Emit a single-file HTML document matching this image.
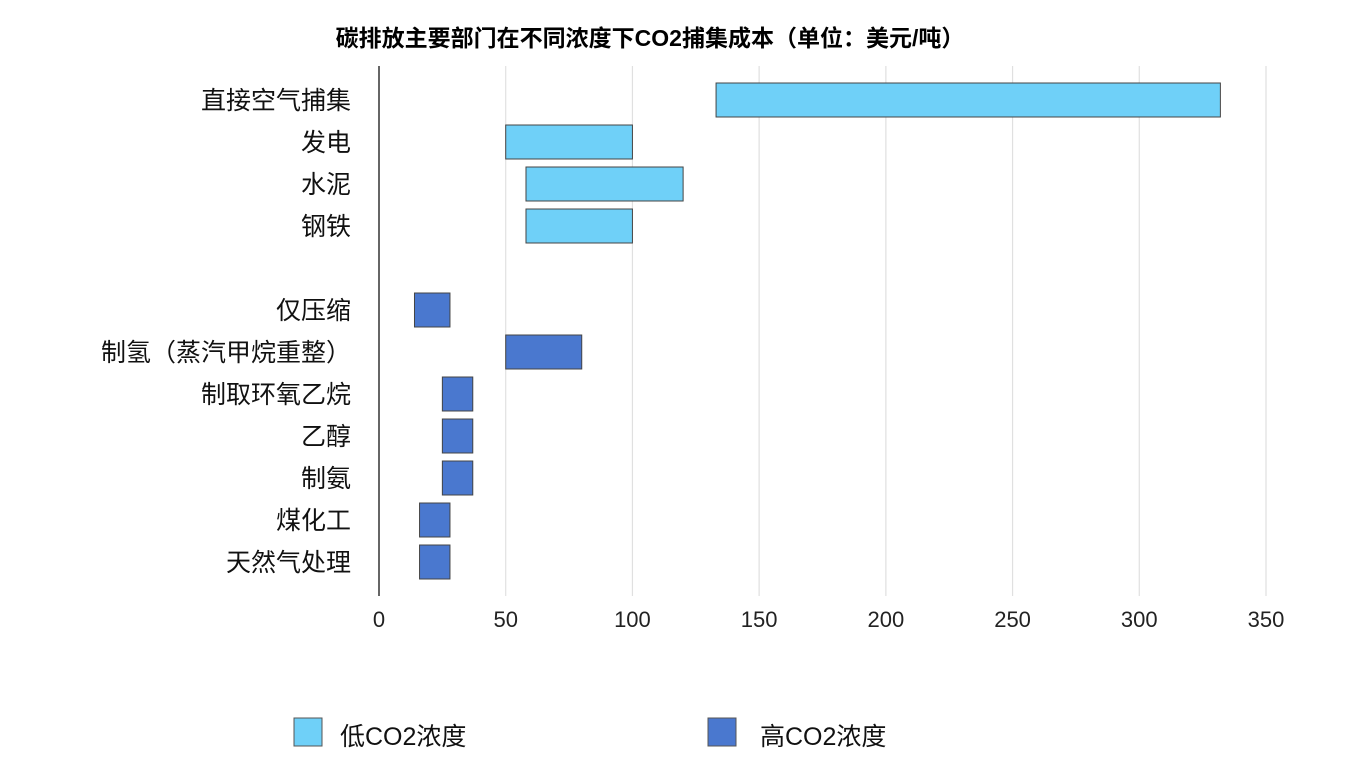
<!DOCTYPE html>
<html><head><meta charset="utf-8">
<style>
html,body{margin:0;padding:0;background:#fff;}
body{width:1347px;height:770px;overflow:hidden;font-family:"Liberation Sans","Noto Sans CJK SC",sans-serif;}
</style></head>
<body>
<svg id="chart" width="1347" height="770" xmlns="http://www.w3.org/2000/svg" font-family="Liberation Sans, Noto Sans CJK SC, sans-serif">
<text x="650" y="46" text-anchor="middle" font-size="23" font-weight="bold" fill="#000">碳排放主要部门在不同浓度下CO2捕集成本（单位：美元/吨）</text>
<g id="grid"></g>
<g id="bars"></g>
<g id="labels"></g>
<g id="ticks"></g>
<line x1="379" y1="66" x2="379" y2="596" stroke="#333" stroke-width="1.5"/>
<g>
<rect x="294" y="718" width="28" height="28" fill="#6fd0f8" stroke="#555" stroke-width="1"/>
<text x="340" y="745" font-size="25" fill="#111">低CO2浓度</text>
<rect x="708" y="718" width="28" height="28" fill="#4a78cf" stroke="#555" stroke-width="1"/>
<text x="760" y="745" font-size="25" fill="#111">高CO2浓度</text>
</g>
</svg>
<script>
const categories = ["直接空气捕集","发电","水泥","钢铁","","仅压缩","制氢（蒸汽甲烷重整）","制取环氧乙烷","乙醇","制氨","煤化工","天然气处理"];
const lowValues = [133,50,58,58,null,14,50,25,25,25,16,16];
const highValues = [332,100,120,100,null,28,80,37,37,37,28,28];
const groups = ["low","low","low","low","","high","high","high","high","high","high","high"];
const tickValues = [0,50,100,150,200,250,300,350];

const NS="http://www.w3.org/2000/svg";
const x0=379, pxPer=(1266-379)/350;
const xs=v=>x0+v*pxPer;
const rowY=i=>100+i*42;
const colors={low:"#6fd0f8",high:"#4a78cf"};
const grid=document.getElementById('grid'), bars=document.getElementById('bars'),
      labels=document.getElementById('labels'), ticks=document.getElementById('ticks');

tickValues.forEach(t=>{
  if(t>0){
    const l=document.createElementNS(NS,'line');
    
    
    l.setAttribute('x1',xs(t));l.setAttribute('x2',xs(t));
    l.setAttribute('y1',66);l.setAttribute('y2',596);
    l.setAttribute('stroke','#e0e0e0');l.setAttribute('stroke-width','1.2');
    grid.appendChild(l);
  }
  const tx=document.createElementNS(NS,'text');
  
  
  tx.setAttribute('x',xs(t));tx.setAttribute('y',627);
  tx.setAttribute('text-anchor','middle');tx.setAttribute('font-size','22');tx.setAttribute('fill','#222');
  tx.textContent=t;
  ticks.appendChild(tx);
});

categories.forEach((c,i)=>{
  if(!c) return;
  const y=rowY(i);
  const t=document.createElementNS(NS,'text');
  
  
  t.setAttribute('x',351);t.setAttribute('y',y+9);
  t.setAttribute('text-anchor','end');t.setAttribute('font-size','25');t.setAttribute('fill','#111');
  t.textContent=c;
  labels.appendChild(t);
  if(lowValues[i]==null) return;
  const r=document.createElementNS(NS,'rect');
  
  
  r.setAttribute('x',xs(lowValues[i]));
  r.setAttribute('width',xs(highValues[i])-xs(lowValues[i]));
  r.setAttribute('y',y-17);r.setAttribute('height',34);
  r.setAttribute('fill',colors[groups[i]]);r.setAttribute('stroke','#444');r.setAttribute('stroke-width','1');
  bars.appendChild(r);
});
</script>
</body></html>
